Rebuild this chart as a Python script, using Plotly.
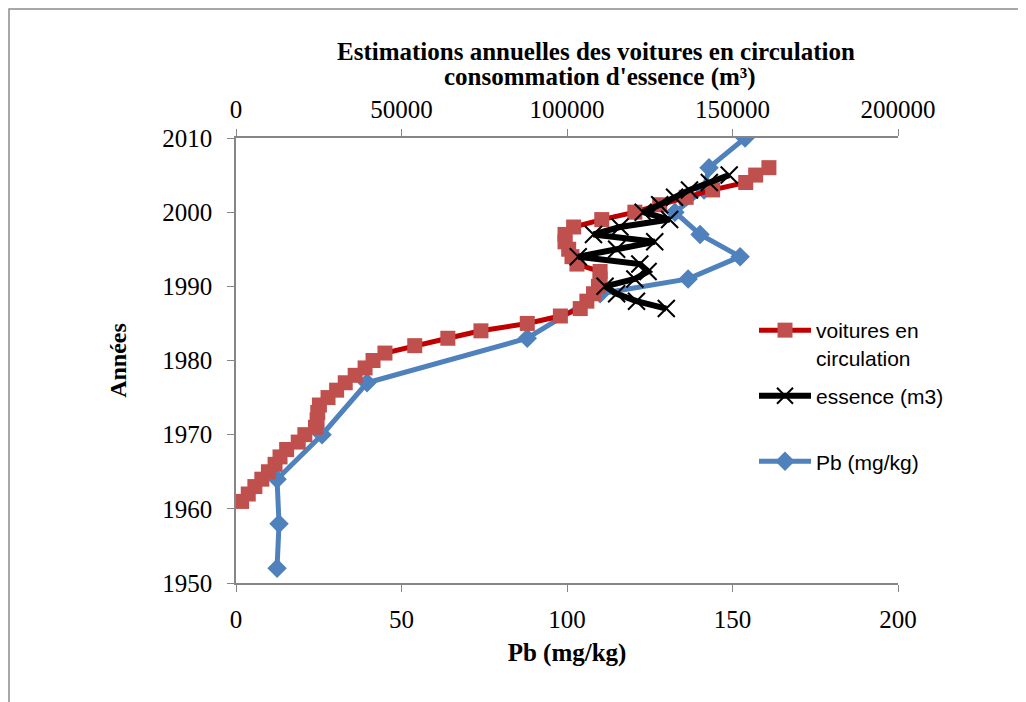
import plotly.graph_objects as go

# ---- data ----
voit_years = list(range(1961, 2007))
voit_vals = [1700, 3700, 5700, 7800, 9800, 11800, 13300, 15300, 18800, 20800,
             24000, 24500, 24700, 25200, 27800, 30400, 33000, 36000, 39000, 41400,
             45000, 54000, 64000, 74000, 88000, 98000, 104000, 106000, 108000, 109500,
             110000, 110000, 103000, 101500, 100500, 99400, 99400, 102000, 110500, 120500,
             128000, 136000, 144000, 154000, 157000, 161000]

ess_years = list(range(1987, 2006))
ess_vals = [130000, 121000, 115000, 111500, 120500, 124500, 122000, 103400, 115000, 126500,
            108000, 116000, 131000, 123000, 128000, 132500, 137000, 143000, 149000]

pb_years = [1952, 1958, 1964, 1970, 1977, 1983, 1989, 1991, 1994, 1997, 2000, 2003, 2006, 2010]
pb_vals = [12.4, 13, 12.4, 26, 39.6, 88, 110, 136.6, 152.3, 140.2, 132.6, 141.4, 142.9, 153.8]

title_line1 = "Estimations annuelles des voitures en circulation"
title_line2 = "consommation d'essence (m³)"

SERIF = "Liberation Serif, Times New Roman, serif"
SANS = "Liberation Sans, Arial, sans-serif"
AXC = "#868686"

# page body has an 8px margin: plot area should sit at x 236..898, y 138..583 on the page
L, R, T, B = 228, 136, 130, 127
PW, PH = 662, 445


def px(x):
    return (x - 236) / PW


def py(y):
    return (583 - y) / PH


fig = go.Figure()
fig.add_trace(go.Scatter(
    x=voit_vals, y=voit_years, xaxis="x2", yaxis="y", mode="lines+markers",
    name="voitures en<br>circulation", legendgroup="a",
    line=dict(color="#C00000", width=5),
    marker=dict(symbol="square", size=15, color="#C0504D"),
))
fig.add_trace(go.Scatter(
    x=ess_vals, y=ess_years, xaxis="x2", yaxis="y", mode="lines+markers",
    name="essence (m3)<br> ", legendgroup="b",
    line=dict(color="black", width=6),
    marker=dict(symbol="x-thin-open", size=17, color="black", line=dict(color="black", width=2)),
))
fig.add_trace(go.Scatter(
    x=pb_vals, y=pb_years, xaxis="x", yaxis="y", mode="lines+markers",
    name="Pb (mg/kg)", legendgroup="c",
    line=dict(color="#4F81BD", width=5),
    marker=dict(symbol="diamond", size=15, color="#4F81BD"),
))

fig.update_layout(
    width=1026, height=702,
    margin=dict(l=L, r=R, t=T, b=B),
    paper_bgcolor="white", plot_bgcolor="white",
    font=dict(family=SERIF, size=25, color="black"),
    xaxis=dict(range=[0, 200], dtick=50, tick0=0, showgrid=False, zeroline=False,
               showline=True, linecolor=AXC, linewidth=1.5, ticks="outside",
               ticklen=7, tickcolor=AXC, ticklabelstandoff=6,
               tickfont=dict(size=25),
               title=dict(text="<b>Pb (mg/kg)</b>", standoff=12,
                          font=dict(family=SERIF, size=25))),
    xaxis2=dict(range=[0, 200000], dtick=50000, tick0=0, overlaying="x", side="top",
                anchor="y", showgrid=False, zeroline=False, showline=True,
                linecolor=AXC, linewidth=1.5, ticks="outside", ticklen=7,
                tickcolor=AXC, tickformat="d", ticklabelstandoff=1,
                tickfont=dict(size=25)),
    yaxis=dict(range=[1950, 2010], dtick=10, tick0=1950, showgrid=False, zeroline=False,
               showline=True, linecolor=AXC, linewidth=1.5, ticks="outside",
               ticklen=7, tickcolor=AXC, ticklabelstandoff=10,
               tickfont=dict(size=25),
               title=dict(text="<b>Années</b>", standoff=29,
                          font=dict(family=SERIF, size=24))),
    legend=dict(x=px(754), y=py(310), xanchor="left", yanchor="top",
                font=dict(family=SANS, size=21, color="black"),
                bgcolor="rgba(0,0,0,0)", valign="top", tracegroupgap=8,
                itemwidth=52),
    annotations=[
        dict(text="<b>" + title_line1 + "</b>", xref="paper", yref="paper",
             x=px(596), y=py(51), xanchor="center", yanchor="middle", showarrow=False,
             font=dict(family=SERIF, size=25, color="black")),
        dict(text="<b>" + title_line2 + "</b>", xref="paper", yref="paper",
             x=px(600), y=py(77), xanchor="center", yanchor="middle", showarrow=False,
             font=dict(family=SERIF, size=25, color="black")),
    ],
    shapes=[dict(type="rect", xref="paper", yref="paper",
                 x0=px(9), x1=px(1040), y0=py(720), y1=py(9),
                 line=dict(color="#8C8C8C", width=1.5), layer="below")],
)

fig.write_html("out.html")
